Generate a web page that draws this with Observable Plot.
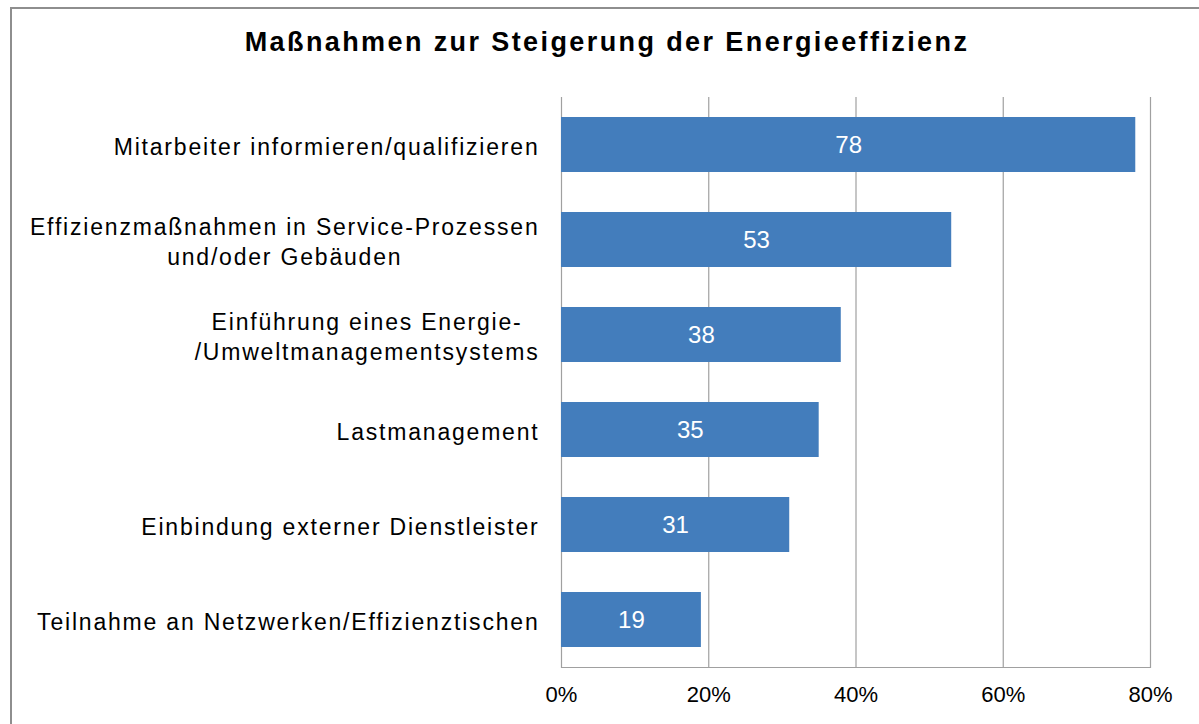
<!DOCTYPE html>
<html><head><meta charset="utf-8">
<script src="https://cdn.jsdelivr.net/npm/d3@7"></script>
<script src="https://cdn.jsdelivr.net/npm/@observablehq/plot@0.6"></script>
<style>
html,body{margin:0;padding:0;overflow:hidden;background:#fff;width:1199px;height:724px;}
#frame{position:absolute;left:10px;top:7px;width:1300px;height:900px;border:2px solid #8e8e8e;box-sizing:border-box;}
#title{position:absolute;left:0;width:1214px;top:27px;text-align:center;font:bold 27px "Liberation Sans",Arial,sans-serif;letter-spacing:2.4px;color:#000;}
#chart{position:absolute;left:0;top:0;}
</style></head><body>
<div id="frame"></div>
<div id="title">Maßnahmen zur Steigerung der Energieeffizienz</div>
<div id="chart"></div>
<script>
const categories = [
  "Mitarbeiter informieren/qualifizieren",
  "Effizienzmaßnahmen in Service-Prozessen\nund/oder Gebäuden",
  "Einführung eines Energie-\n/Umweltmanagementsystems",
  "Lastmanagement",
  "Einbindung externer Dienstleister",
  "Teilnahme an Netzwerken/Effizienztischen"
];
const values = [78, 53, 38, 35, 31, 19];
const xTicks = [0, 20, 40, 60, 80];

const data = categories.map((c, i) => ({category: c, value: values[i]}));
const font = '"Liberation Sans", Arial, sans-serif';

const plot = Plot.plot({
  width: 1199, height: 724,
  marginLeft: 561, marginRight: 49, marginTop: 97, marginBottom: 57,
  style: {fontFamily: font, fontSize: "22px", color: "#000", background: "transparent", overflow: "visible"},
  x: {domain: [0, 80]},
  y: {domain: categories, paddingInner: 0.42, paddingOuter: 0.21},
  marks: [
    Plot.gridX(xTicks, {stroke: "#a0a0a0", strokeOpacity: 1, strokeWidth: 1.2}),
    Plot.frame({anchor: "bottom", stroke: "#a0a0a0", strokeWidth: 1.2}),
    Plot.barX(data, {x: "value", y: "category", fill: "#437DBC"}),
    Plot.text(data, {x: d => d.value / 2, y: "category", text: d => String(d.value), fill: "white", fontSize: 24}),
    Plot.axisX(xTicks, {tickFormat: d => d + "%", tickSize: 0, tickPadding: 19, label: null, fontSize: 22}),
    Plot.axisY({tickSize: 0, tickPadding: 22, label: null, fontSize: 23, lineHeight: 1.3})
  ]
});
document.getElementById("chart").appendChild(plot);

const yLabels = d3.select(plot).selectAll('g[aria-label="y-axis tick label"] text');
yLabels.style("letter-spacing", "1.8px");
// center the lines of wrapped labels relative to each other, block stays right-aligned
yLabels.each(function() {
  const ts = this.querySelectorAll("tspan");
  if (ts.length > 1) {
    const W = this.getBBox().width;
    this.setAttribute("text-anchor", "middle");
    ts.forEach(t => {
      const x0 = +(t.getAttribute("x") || 0);
      t.setAttribute("x", x0 - W / 2);
    });
  }
});
</script>
</body></html>
